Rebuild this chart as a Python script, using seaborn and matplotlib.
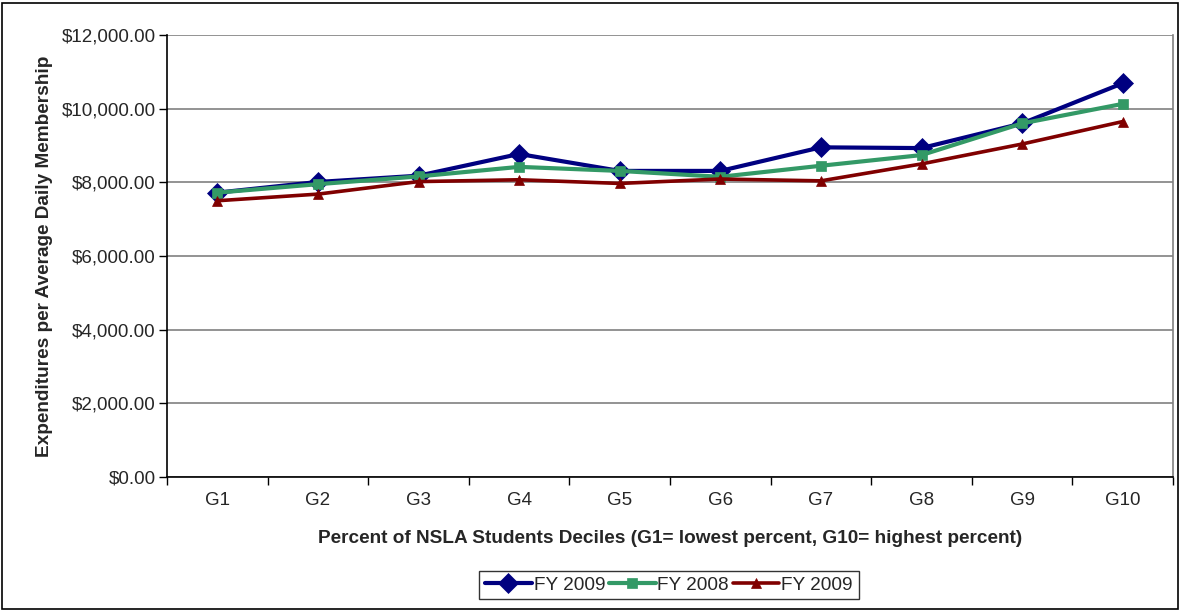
import matplotlib
matplotlib.use("Agg")
import matplotlib.pyplot as plt
from matplotlib.ticker import FuncFormatter, FixedLocator
import seaborn as sns
import pandas as pd

# Deciles of NSLA student share
categories = ["G1", "G2", "G3", "G4", "G5", "G6", "G7", "G8", "G9", "G10"]

# Expenditures per average daily membership, by decile
fy2009_a = [7720, 8010, 8180, 8770, 8310, 8310, 8950, 8930, 9600, 10690]
fy2008 = [7720, 7950, 8160, 8420, 8310, 8150, 8450, 8740, 9600, 10130]
fy2009_b = [7500, 7680, 8020, 8070, 7970, 8090, 8040, 8500, 9040, 9650]

series_labels = ["FY 2009", "FY 2008", "FY 2009"]
y_ticks = [0, 2000, 4000, 6000, 8000, 10000, 12000]

sns.set_theme(style="white")
plt.rcParams["font.family"] = ["Liberation Sans", "DejaVu Sans"]

W, H = 1180, 611
fig = plt.figure(figsize=(W / 100, H / 100), dpi=100)
ax = fig.add_axes([167 / W, 1 - 477 / H, (1173 - 167) / W, (477 - 35) / H])

pos = list(range(len(categories)))
styles = [
    dict(color="#000080", marker="D", markersize=10.5, lw=3.0),
    dict(color="#339966", marker="s", markersize=6.5, lw=3.0),
    dict(color="#800000", marker="^", markersize=7.5, lw=2.6),
]
for vals, lab, st in zip([fy2009_a, fy2008, fy2009_b], series_labels, styles):
    df = pd.DataFrame({"x": pos, "y": vals})
    sns.lineplot(data=df, x="x", y="y", ax=ax, label=lab, color=st["color"],
                 marker=st["marker"], markersize=st["markersize"],
                 linewidth=st["lw"], markeredgecolor=st["color"],
                 markeredgewidth=0.5, zorder=3)

ax.set_xlim(-0.5, len(categories) - 0.5)
ax.set_ylim(0, 12000)
ax.yaxis.set_major_locator(FixedLocator(y_ticks))
ax.yaxis.set_major_formatter(FuncFormatter(lambda v, p: f"${v:,.2f}"))
ax.grid(axis="y", color="#808080", linewidth=1.2)
ax.set_axisbelow(True)

ax.set_xticks(pos)
ax.set_xticklabels(categories)
ax.xaxis.set_minor_locator(FixedLocator([p - 0.5 for p in pos] + [len(pos) - 0.5]))
ax.tick_params(axis="x", which="major", length=0, pad=11, labelsize=13.5)
ax.tick_params(axis="x", which="minor", length=6, width=1, color="black",
               direction="out", bottom=True)
ax.tick_params(axis="y", which="major", length=6, width=1, color="black",
               direction="out", left=True, labelsize=13.5, pad=2)

for side in ["left", "bottom"]:
    ax.spines[side].set_color("black")
    ax.spines[side].set_linewidth(1.2)
ax.spines["top"].set_visible(False)
ax.spines["right"].set_color("#808080")
ax.spines["right"].set_linewidth(1.2)

ax.set_xlabel("Percent of NSLA Students Deciles (G1= lowest percent, G10= highest percent)",
              fontsize=13.7, fontweight="bold", labelpad=15)
ax.set_ylabel("Expenditures per Average Daily Membership",
              fontsize=13.7, fontweight="bold", labelpad=6)

leg = ax.legend(loc="center", bbox_to_anchor=((669 - 167) / (1173 - 167), (477 - 585) / (477 - 35)),
                ncol=3, frameon=True, fancybox=False, fontsize=13.7,
                handlelength=2.45, handletextpad=0.1, columnspacing=0.2,
                borderpad=0.3, edgecolor="black")
leg.get_frame().set_linewidth(1.0)

# outer chart border
fig.patches.append(plt.Rectangle((2 / W, 2 / H), 1 - 4 / W, 1 - 5 / H,
                                 transform=fig.transFigure, fill=False,
                                 edgecolor="black", linewidth=1.2))

fig.savefig("out.png", dpi=100)
